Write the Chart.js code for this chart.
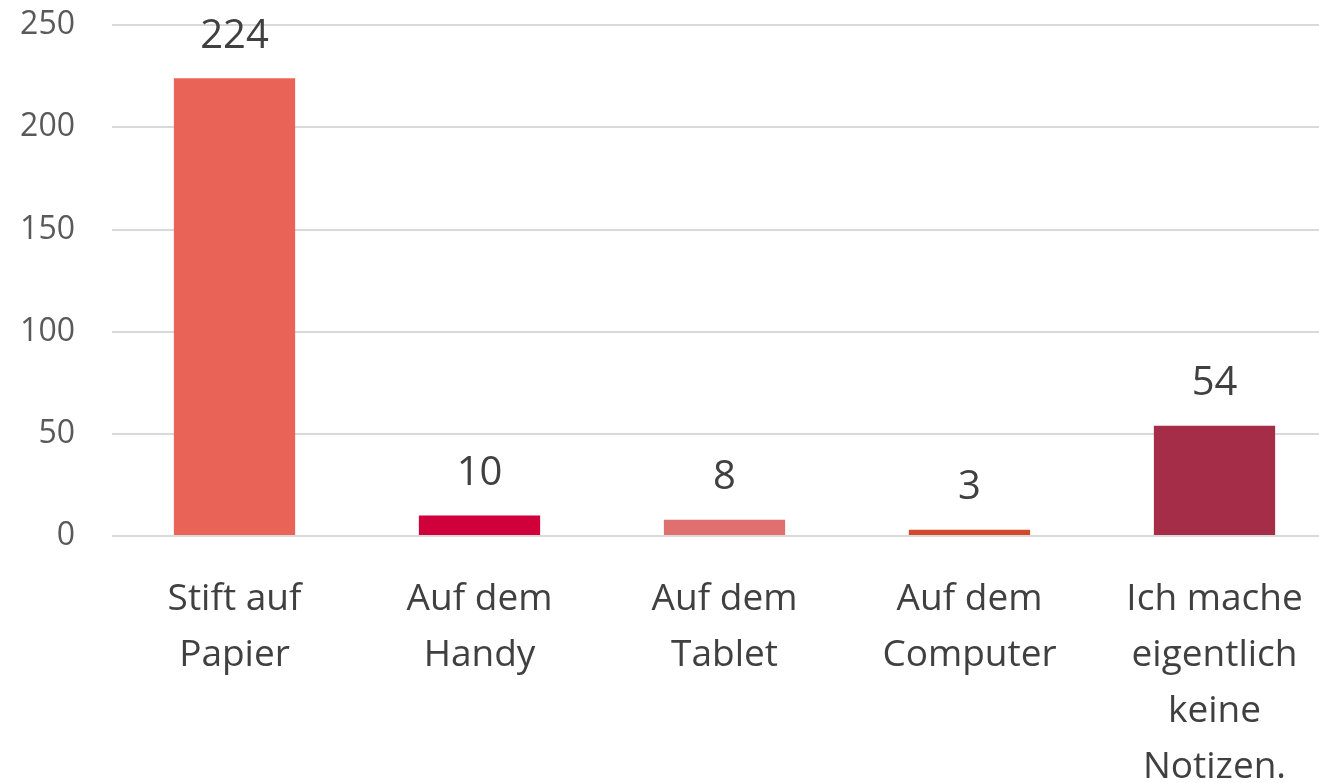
<!DOCTYPE html>
<html>
<head>
<meta charset="utf-8">
<script src="https://cdn.jsdelivr.net/npm/chart.js@4"></script>
<style>
  html, body { margin: 0; padding: 0; background: #fff; overflow: hidden; }
  #frame { width: 1319px; height: 783px; overflow: hidden; position: relative; }
  #wrap { position: absolute; left: 0; top: -31px; width: 1337px; height: 814px; }
</style>
</head>
<body>
<div id="frame"><div id="wrap"><canvas id="barChart"></canvas></div></div>
<script>
const categories = [
  ['Stift auf', 'Papier'],
  ['Auf dem', 'Handy'],
  ['Auf dem', 'Tablet'],
  ['Auf dem', 'Computer'],
  ['Ich mache', 'eigentlich', 'keine', 'Notizen.']
];
const counts = [224, 10, 8, 3, 54];
const barColors = ['#E96357', '#D0003A', '#E07070', '#D24A2C', '#A52D48'];
const yTicks = [0, 50, 100, 150, 200, 250];

const FONT = "'Open Sans', 'Liberation Sans', sans-serif";

// Werte über den Balken
const valueLabels = {
  id: 'valueLabels',
  afterDatasetsDraw(chart) {
    const ctx = chart.ctx;
    const meta = chart.getDatasetMeta(0);
    ctx.save();
    ctx.font = '40px ' + FONT;
    ctx.fillStyle = '#404040';
    ctx.textAlign = 'center';
    ctx.textBaseline = 'middle';
    meta.data.forEach((bar, i) => {
      ctx.fillText(String(counts[i]), bar.x, bar.y - 42);
    });
    ctx.restore();
  }
};

new Chart(document.getElementById('barChart'), {
  type: 'bar',
  data: {
    labels: categories,
    datasets: [{ data: counts, backgroundColor: barColors, categoryPercentage: 1, barPercentage: 0.495 }]
  },
  options: {
    responsive: true,
    maintainAspectRatio: false,
    animation: false,
    plugins: { legend: { display: false }, tooltip: { enabled: false } },
    scales: {
      x: {
        grid: { display: false },
        border: { display: false },
        ticks: { color: '#404040', font: { family: FONT, size: 37, lineHeight: 1.52 }, maxRotation: 0, autoSkip: false, padding: 27 },
        afterFit: s => { s.height = 247; }
      },
      y: {
        min: 0, max: 250,
        afterBuildTicks: s => { s.ticks = yTicks.map(v => ({ value: v })); },
        grid: { color: '#D9D9D9', lineWidth: 2, drawTicks: false },
        border: { display: false },
        ticks: { color: '#595959', font: { family: FONT, size: 32 }, padding: 37 },
        afterFit: s => { s.width = 112; }
      }
    }
  },
  plugins: [valueLabels]
});
</script>
</body>
</html>
